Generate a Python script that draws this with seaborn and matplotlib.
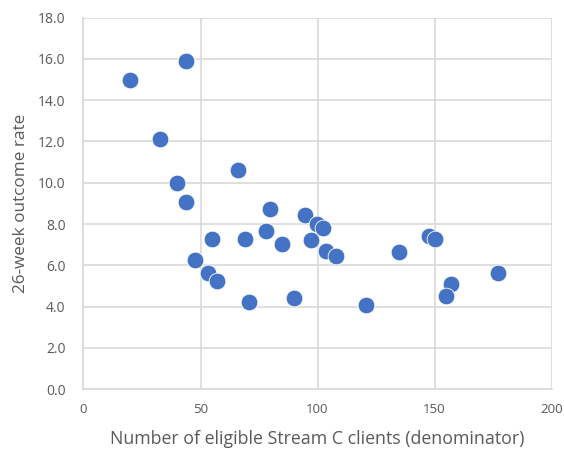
import matplotlib
matplotlib.use("Agg")
import matplotlib.pyplot as plt
import seaborn as sns
import pandas as pd
from matplotlib.ticker import FormatStrFormatter

denominator = [19.8, 44.0, 32.9, 39.8, 44.0, 65.9, 79.9, 94.8, 54.9, 47.8,
               53.0, 56.9, 70.9, 68.9, 78.0, 84.9, 89.9, 97.0, 99.7, 102.3,
               103.8, 107.9, 120.9, 134.9, 147.8, 150.2, 156.9, 154.9, 177.0]
outcome_rate = [15.0, 15.9, 12.1, 9.99, 9.08, 10.6, 8.74, 8.43, 7.26, 6.24,
                5.64, 5.25, 4.22, 7.26, 7.67, 7.04, 4.44, 7.22, 8.0, 7.82,
                6.70, 6.46, 4.09, 6.66, 7.43, 7.29, 5.10, 4.51, 5.64]
x_ticks = [0, 50, 100, 150, 200]
y_ticks = [0, 2, 4, 6, 8, 10, 12, 14, 16, 18]

df = pd.DataFrame({"x": denominator, "y": outcome_rate})

sns.set_style("white")
plt.rcParams["font.family"] = ["Open Sans", "DejaVu Sans"]

fig = plt.figure(figsize=(5.64, 4.53), dpi=100)
ax = fig.add_axes([0.148, 0.141, 0.830, 0.820])

sns.scatterplot(data=df, x="x", y="y", ax=ax, s=145, color="#4472C4",
                edgecolor="white", linewidth=0.6, zorder=3)

ax.set_xlim(0, 200)
ax.set_ylim(0, 18)
ax.set_xticks(x_ticks)
ax.set_yticks(y_ticks)
ax.yaxis.set_major_formatter(FormatStrFormatter("%.1f"))
ax.grid(True, color="#D9D9D9", linewidth=1.2, zorder=0)
ax.set_axisbelow(True)
for sp in ax.spines.values():
    sp.set_visible(False)
ax.spines["left"].set_visible(True)
ax.spines["bottom"].set_visible(True)
ax.spines["left"].set_color("#D9D9D9")
ax.spines["bottom"].set_color("#D9D9D9")
ax.spines["left"].set_linewidth(1.2)
ax.spines["bottom"].set_linewidth(1.2)
ax.tick_params(axis="y", length=0, labelsize=10, colors="#595959", pad=13)
ax.tick_params(axis="x", length=0, labelsize=9.5, colors="#595959", pad=10)
ax.set_xlabel("Number of eligible Stream C clients (denominator)",
              fontsize=12.8, color="#595959", labelpad=10)
ax.set_ylabel("26-week outcome rate", fontsize=12.3, color="#595959", labelpad=6)

fig.savefig("out.png", dpi=100)
